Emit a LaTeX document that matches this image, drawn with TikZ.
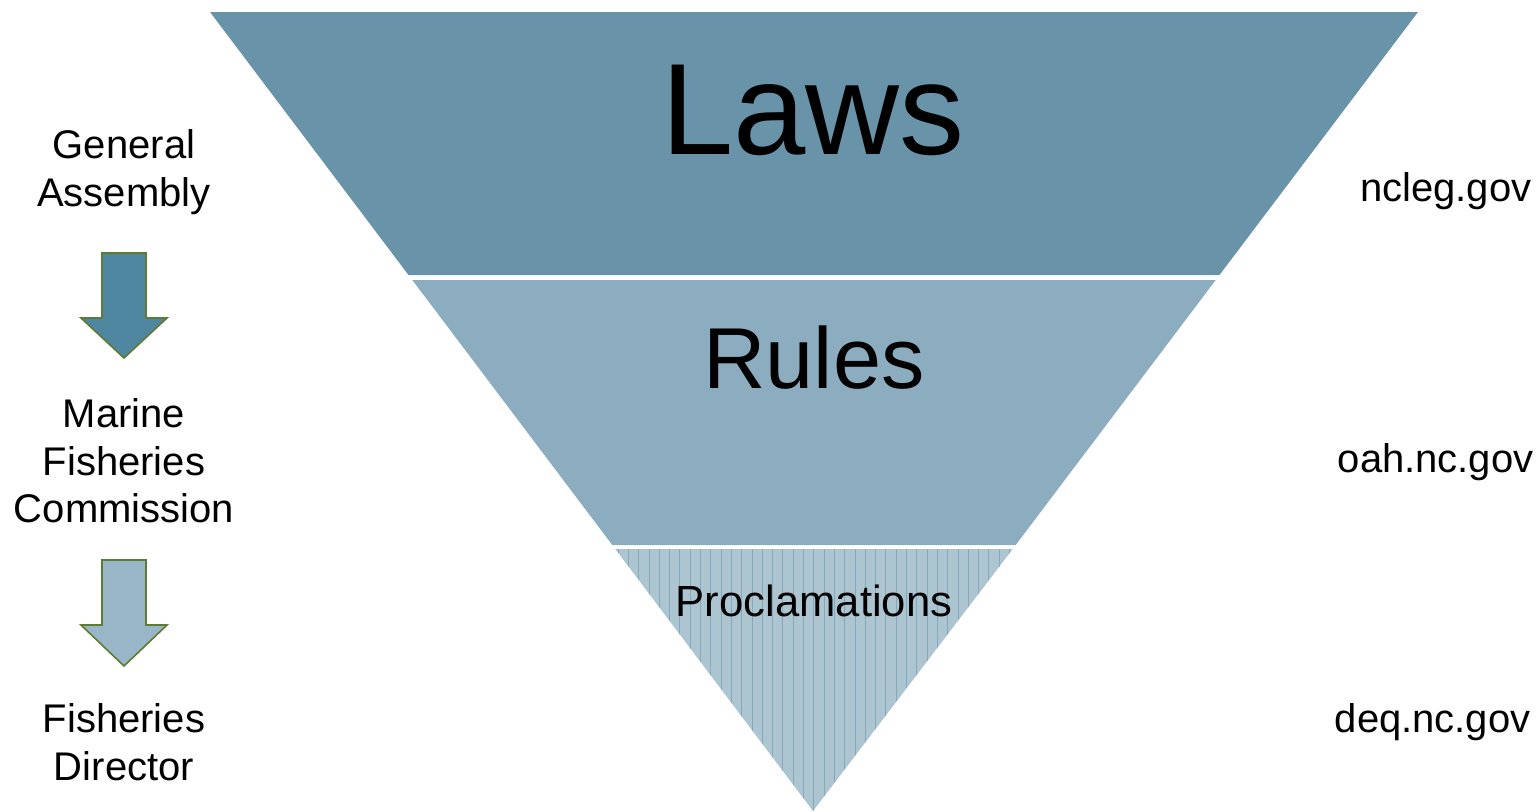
\documentclass[tikz,border=0pt]{standalone}
\usepackage{fontspec}
\setmainfont{Liberation Sans}
\begin{document}
\begin{tikzpicture}[x=1pt,y=-1pt,
  side/.style={align=center,font=\fontsize{40}{47.5}\selectfont},
  url/.style={anchor=east,font=\fontsize{40}{47.5}\selectfont},
  downarrow/.style={draw=arrowedge,line width=1.6pt,line join=miter}]
\definecolor{lawsc}{HTML}{6893A9}
\definecolor{rulesc}{HTML}{8BADBF}
\definecolor{procc}{HTML}{ACC5D1}
\definecolor{procline}{HTML}{86A8BB}
\definecolor{arrowedge}{HTML}{5F7A32}
\definecolor{arrowa}{HTML}{4F86A0}
\definecolor{arrowb}{HTML}{98B6C7}
\useasboundingbox (0,0) rectangle (1539,811);
% bands
\fill[lawsc] (210,12) -- (1418,12) -- (1219.5,275) -- (408.5,275) -- cycle;
\fill[rulesc] (412.3,280) -- (1215.7,280) -- (1015.7,545) -- (612.3,545) -- cycle;
\fill[procc] (615.3,549) -- (1012.7,549) -- (813,811) -- cycle;
\begin{scope}
\clip (615.3,549) -- (1012.7,549) -- (813,811) -- cycle;
\foreach \i in {0,...,40} {
  \draw[procline,line width=0.7pt] ({618+\i*10.3},549) -- ({618+\i*10.3},811);
}
\end{scope}
% band labels
\node[font=\fontsize{130}{130}\selectfont] (laws) at (813,110) {Laws};
\node[font=\fontsize{86.5}{86.5}\selectfont] (rules) at (814,358) {Rules};
\node[font=\fontsize{43.6}{43.6}\selectfont] (procl) at (814,601) {Proclamations};
% left side
\node[side] (ga) at (124,172) {General\\Assembly};
\node[side] (mfc) at (124,461) {Marine\\Fisheries\\Commission};
\node[side] (fd) at (124,742) {Fisheries\\Director};
\draw[downarrow,fill=arrowa] (102,253) -- (146,253) -- (146,318) -- (167,318) -- (124,358) -- (81,318) -- (102,318) -- cycle;
\draw[downarrow,fill=arrowb] (102,560) -- (146,560) -- (146,625) -- (167,625) -- (124,666) -- (81,625) -- (102,625) -- cycle;
% right side
\node[url] (u1) at (1535,191) {ncleg.gov};
\node[url] (u2) at (1537,462) {oah.nc.gov};
\node[url] (u3) at (1534,722) {deq.nc.gov};
\end{tikzpicture}
\end{document}
